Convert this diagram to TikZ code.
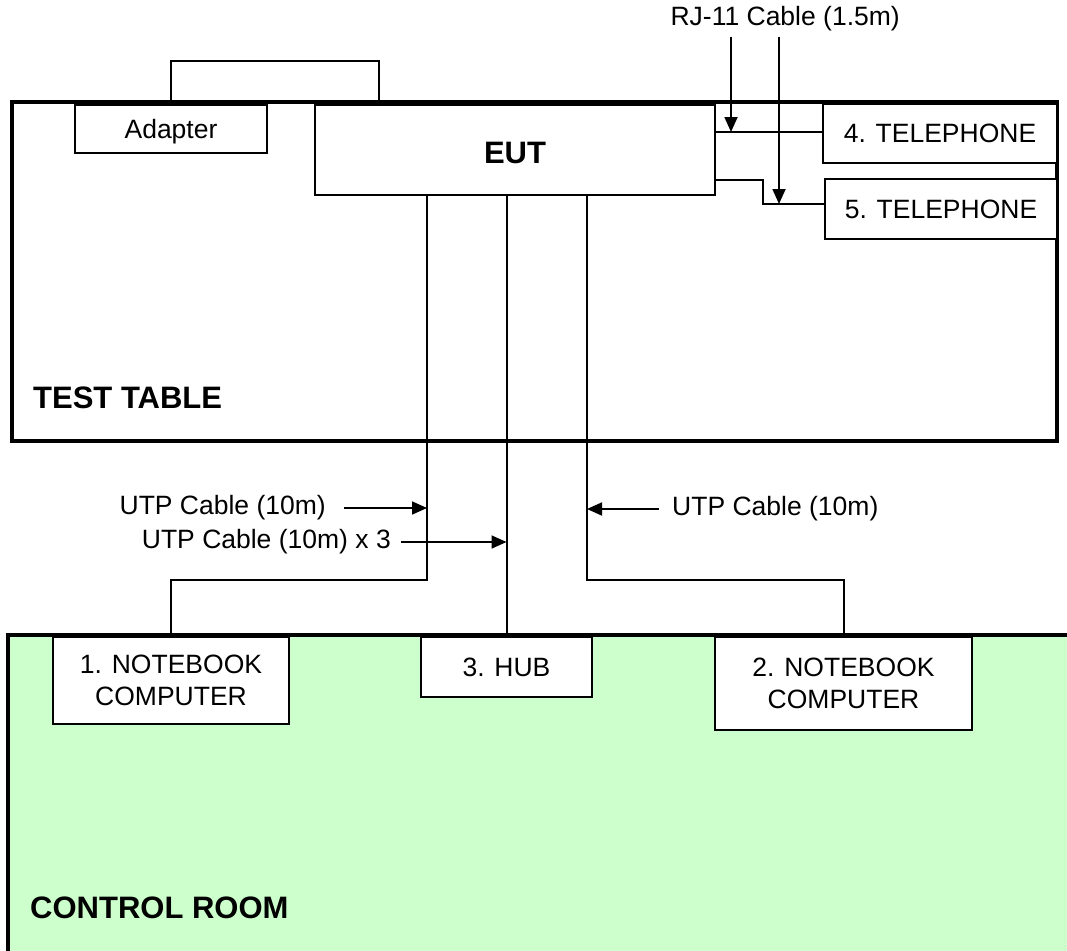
\documentclass[tikz,border=0pt]{standalone}
\usepackage{fontspec}
\setmainfont{Liberation Sans}
\usepackage{xcolor}
\usetikzlibrary{arrows.meta,positioning}
\definecolor{roomgreen}{RGB}{204,255,204}

\begin{document}
\begin{tikzpicture}[
  x=1pt, y=-1pt,
  font=\fontsize{26.5}{32}\selectfont,
  unit/.style={rectangle, draw=black, fill=white, line width=2pt,
               inner sep=0pt, outer sep=0pt, align=center},
  area/.style={rectangle, draw=black, line width=4pt,
               inner sep=0pt, outer sep=0pt},
  title/.style={font=\fontsize{31}{36}\selectfont\bfseries},
  lbl/.style={inner sep=0pt},
  cable/.style={line width=2pt},
  arr/.style={-{Triangle[length=15pt,width=13pt]}, line width=1.75pt}
]
\useasboundingbox (0,0) rectangle (1067,950);

% rooms
\node[area, fill=roomgreen, anchor=north west, minimum width=1100pt, minimum height=340pt] (room) at (7.5,634.5) {};
\node[area, anchor=north west, minimum width=1045.5pt, minimum height=339.5pt] (table) at (11.5,101.5) {};
\node[title, lbl, anchor=west] (tablename) at (33,398) {TEST TABLE};
\node[title, lbl, anchor=west] (roomname) at (30,908) {CONTROL ROOM};

% equipment
\node[unit, title, minimum width=400pt, minimum height=90pt, text height=27pt, text depth=0pt, anchor=north west] (eut) at (315,104.5) {EUT};
\node[unit, minimum width=192pt, minimum height=48pt, text depth=0pt, anchor=north west] (adapter) at (75,105) {Adapter};
\node[unit, minimum width=234pt, minimum height=59pt, anchor=north west] (tel4) at (823,104) {4. TELEPHONE};
\node[unit, minimum width=232pt, minimum height=60pt, below left=16pt and 0pt of tel4.south east] (tel5) {5. TELEPHONE};
\node[unit, minimum width=236pt, minimum height=87pt, anchor=north west] (nb1) at (53,637) {1. NOTEBOOK\\COMPUTER};
\node[unit, minimum width=171pt, minimum height=60pt, anchor=north west] (hub) at (421,637) {3. HUB};
\node[unit, minimum width=257pt, minimum height=93pt, anchor=north west] (nb2) at (715,637) {2. NOTEBOOK\\COMPUTER};

% cable bends
\coordinate (p1) at (379,61);
\coordinate (c1) at (427,580);
\coordinate (c2) at (587,580);
\coordinate (t5) at (763,180);
\coordinate (j4) at (731,132);
\coordinate (j5) at (779,204);

\draw[cable] (adapter.north) |- (p1) -- (p1 |- eut.north);
\draw[cable] (c1 |- eut.south) -- (c1) -| (nb1.north);
\draw[cable] (hub.north |- eut.south) -- (hub.north);
\draw[cable] (c2 |- eut.south) -- (c2) -| (nb2.north);
\draw[cable] (j4 -| eut.east) -- (j4 -| tel4.west);
\draw[cable] (t5 -| eut.east) -- (t5) |- (j5) -- (j5 -| tel5.west);

% cable labels
\node[lbl, anchor=east] (rj) at (900,19) {RJ-11 Cable (1.5m)};
\node[lbl, anchor=east] (utpa) at (326,508) {UTP Cable (10m)};
\node[lbl, anchor=east] (utpb) at (391,542) {UTP Cable (10m) x 3};
\node[lbl, anchor=west] (utpc) at (672,509) {UTP Cable (10m)};

\foreach \j in {j4,j5}
  \draw[arr] (\j |- rj.south) ++(0,5) -- (\j);
\draw[arr] (utpa.east) ++(18,0) -- (utpa.east -| c1);
\draw[arr] (utpb.east) ++(10,0) -- (utpb.east -| hub.north);
\draw[arr] (utpc.west) ++(-13,0) -- (utpc.west -| c2);
\end{tikzpicture}
\end{document}
